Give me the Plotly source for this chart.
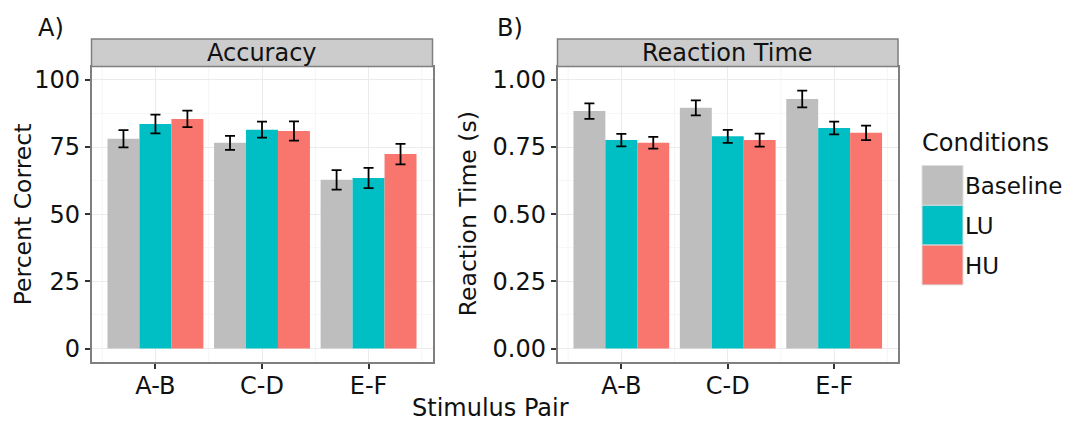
import plotly.graph_objects as go

W, H = 1065, 423

pairs = ["A-B", "C-D", "E-F"]
conditions = ["Baseline", "LU", "HU"]

acc_baseline = [78.1, 76.6, 62.8]
acc_lu = [83.6, 81.5, 63.5]
acc_hu = [85.5, 81.0, 72.4]
acc_baseline_err = [3.2, 2.6, 3.6]
acc_lu_err = [3.5, 3.0, 3.8]
acc_hu_err = [3.1, 3.6, 3.8]

rt_baseline = [0.884, 0.896, 0.929]
rt_lu = [0.776, 0.790, 0.821]
rt_hu = [0.766, 0.776, 0.803]
rt_baseline_err = [0.029, 0.028, 0.031]
rt_lu_err = [0.023, 0.024, 0.024]
rt_hu_err = [0.022, 0.024, 0.027]

acc_ticks = [0, 25, 50, 75, 100]
rt_ticks = [0.0, 0.25, 0.50, 0.75, 1.00]
rt_ticktext = ["0.00", "0.25", "0.50", "0.75", "1.00"]

colors = {"Baseline": "#BEBEBE", "LU": "#00BFC4", "HU": "#F8766D"}
FONT = "DejaVu Sans"
TXT = "#111111"


def px(x):
    return x / W


def py(y):
    return 1 - y / H


fig = go.Figure()

acc_vals = {"Baseline": (acc_baseline, acc_baseline_err),
            "LU": (acc_lu, acc_lu_err),
            "HU": (acc_hu, acc_hu_err)}
rt_vals = {"Baseline": (rt_baseline, rt_baseline_err),
           "LU": (rt_lu, rt_lu_err),
           "HU": (rt_hu, rt_hu_err)}

for cond in conditions:
    v, e = acc_vals[cond]
    fig.add_trace(go.Bar(
        x=pairs, y=v, name=cond, marker=dict(color=colors[cond], line=dict(width=0)),
        error_y=dict(type="data", array=e, color="black", thickness=1.8, width=5),
        xaxis="x", yaxis="y", showlegend=False, offsetgroup=cond, hoverinfo="skip"))
for cond in conditions:
    v, e = rt_vals[cond]
    fig.add_trace(go.Bar(
        x=pairs, y=v, name=cond, marker=dict(color=colors[cond], line=dict(width=0)),
        error_y=dict(type="data", array=e, color="black", thickness=1.8, width=5),
        xaxis="x2", yaxis="y2", showlegend=False, offsetgroup=cond, hoverinfo="skip"))

# panel geometry (pixels)
A_l, A_r = 91.5, 432.5
B_l, B_r = 557.5, 898
P_t, P_b = 66.5, 362
S_t = 39

axis_common = dict(
    showline=True, mirror=True, linecolor="#7F7F7F", linewidth=1.5,
    ticks="outside", ticklen=5, tickwidth=1.5, tickcolor="#333333",
    tickfont=dict(family=FONT, size=24, color=TXT),
    zeroline=False,
)

fig.update_layout(
    width=W, height=H,
    margin=dict(l=0, r=0, t=0, b=0),
    paper_bgcolor="white", plot_bgcolor="white",
    barmode="group", bargap=0.1, bargroupgap=0,
    showlegend=False,
    xaxis=dict(domain=[px(A_l), px(A_r)], anchor="y", type="category",
               range=[-0.6, 2.6], showgrid=True, gridcolor="#EBEBEB", gridwidth=1,
               ticklabelstandoff=-4, **axis_common),
    yaxis=dict(domain=[py(P_b), py(P_t)], anchor="x", range=[-5, 105],
               tickvals=acc_ticks, showgrid=True, gridcolor="#EBEBEB", gridwidth=1,
               minor=dict(dtick=12.5, tick0=0, showgrid=True, gridcolor="#F7F7F7", ticks=""),
               **axis_common),
    xaxis2=dict(domain=[px(B_l), px(B_r)], anchor="y2", type="category",
                range=[-0.6, 2.6], showgrid=True, gridcolor="#EBEBEB", gridwidth=1,
                ticklabelstandoff=-4, **axis_common),
    yaxis2=dict(domain=[py(P_b), py(P_t)], anchor="x2", range=[-0.05, 1.05],
                tickvals=rt_ticks, ticktext=rt_ticktext, showgrid=True,
                gridcolor="#EBEBEB", gridwidth=1,
                minor=dict(dtick=0.125, tick0=0, showgrid=True, gridcolor="#F7F7F7", ticks=""),
                **axis_common),
)

shapes = []
# minor vertical grid lines between categories
for xr, yr in (("x", "y domain"), ("x2", "y2 domain")):
    for xv in (-0.5, 0.5, 1.5, 2.5):
        shapes.append(dict(type="line", xref=xr, yref=yr, x0=xv, x1=xv, y0=0, y1=1,
                           line=dict(color="#F5F5F5", width=1), layer="below"))

annotations = []
# strips
for (l, r), label in (((A_l, A_r), "Accuracy"), ((B_l, B_r), "Reaction Time")):
    shapes.append(dict(type="rect", xref="paper", yref="paper",
                       x0=px(l), x1=px(r), y0=py(P_t), y1=py(S_t),
                       fillcolor="#CCCCCC", line=dict(color="#7F7F7F", width=1.5)))
    annotations.append(dict(x=px((l + r) / 2), y=py((S_t + P_t) / 2), xref="paper", yref="paper",
                            text=label, showarrow=False, xanchor="center", yanchor="middle",
                            font=dict(family=FONT, size=24, color=TXT)))

# panel letters
annotations.append(dict(x=px(36), y=py(28), xref="paper", yref="paper", text="A)",
                        showarrow=False, xanchor="left", yanchor="middle",
                        font=dict(family=FONT, size=24, color=TXT)))
annotations.append(dict(x=px(495), y=py(28), xref="paper", yref="paper", text="B)",
                        showarrow=False, xanchor="left", yanchor="middle",
                        font=dict(family=FONT, size=24, color=TXT)))

# axis titles
annotations.append(dict(x=px(23), y=py((P_t + P_b) / 2), xref="paper", yref="paper",
                        text="Percent Correct", textangle=-90, showarrow=False,
                        xanchor="center", yanchor="middle",
                        font=dict(family=FONT, size=23.5, color=TXT)))
annotations.append(dict(x=px(468), y=py((P_t + P_b) / 2), xref="paper", yref="paper",
                        text="Reaction Time (s)", textangle=-90, showarrow=False,
                        xanchor="center", yanchor="middle",
                        font=dict(family=FONT, size=23.5, color=TXT)))
annotations.append(dict(x=px(490), y=py(408), xref="paper", yref="paper",
                        text="Stimulus Pair", showarrow=False,
                        xanchor="center", yanchor="middle",
                        font=dict(family=FONT, size=24, color=TXT)))

# legend (drawn manually to match large square keys)
annotations.append(dict(x=px(920), y=py(143), xref="paper", yref="paper",
                        text="Conditions", showarrow=False, xanchor="left", yanchor="middle",
                        font=dict(family=FONT, size=24, color=TXT)))
key_top = 165.5
key_h = 39.8
for i, cond in enumerate(conditions):
    y0 = key_top + i * key_h
    shapes.append(dict(type="rect", xref="paper", yref="paper",
                       x0=px(922), x1=px(963), y0=py(y0 + key_h), y1=py(y0),
                       fillcolor=colors[cond], line=dict(color="#DDDDDD", width=1)))
    annotations.append(dict(x=px(963), y=py(y0 + key_h / 2 + 1), xref="paper", yref="paper",
                            text=cond, showarrow=False, xanchor="left", yanchor="middle",
                            font=dict(family=FONT, size=23, color=TXT)))

fig.update_layout(shapes=shapes, annotations=annotations)

fig.write_html("out.html", config={"displayModeBar": False},
               post_script="document.body.style.margin='0';document.body.style.overflow='hidden';")
